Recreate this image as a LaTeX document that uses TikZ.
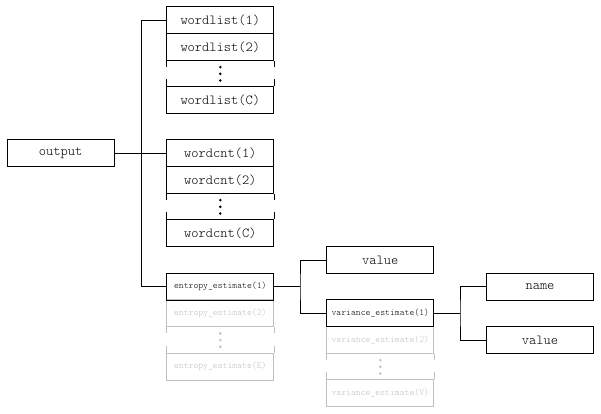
\documentclass[tikz,border=0pt]{standalone}
\usepackage{tikz}
\usetikzlibrary{calc}
\colorlet{fade}{black!25}
\tikzset{
  field/.style={draw,line width=0.7pt,minimum width=2.67cm,minimum height=0.667cm,inner sep=0pt,font=\fontsize{9.8}{11}\ttfamily\fontseries{l}\selectfont},
  tiny/.style={font=\fontsize{6.6}{8}\ttfamily\fontseries{l}\selectfont},
  faded/.style={draw=fade,text=fade}
}
\begin{document}
\begin{tikzpicture}[x=0.025cm,y=-0.025cm,line width=0.7pt]
\useasboundingbox (0,0) rectangle (601,414);
% left side
\node[field](output)at(60.7,153.3){output};
% greyed entries first, so the black borders stay on top
\node[field,tiny,faded](entropy2)at(220.3,313.3){entropy\_estimate(2)};
\node[field,tiny,faded](entropyE)at(220.3,366.7){entropy\_estimate(E)};
\node[field,tiny,faded](variance2)at(380.3,340){variance\_estimate(2)};
\node[field,tiny,faded](varianceV)at(380.3,393.3){variance\_estimate(V)};
% first column
\node[field](wordlist1)at(220.3,20.3){wordlist(1)};
\node[field](wordlist2)at(220.3,47){wordlist(2)};
\node[field](wordlistC)at(220.3,100.3){wordlist(C)};
\node[field](wordcnt1)at(220.3,153.3){wordcnt(1)};
\node[field](wordcnt2)at(220.3,180){wordcnt(2)};
\node[field](wordcntC)at(220.3,233.3){wordcnt(C)};
\node[field,tiny](entropy1)at(220.3,286.7){entropy\_estimate(1)};
% second column
\node[field](value1)at(380.3,260){value};
\node[field,tiny](variance1)at(380.3,313.3){variance\_estimate(1)};
% third column
\node[field](name)at(540,286.7){name};
\node[field](value2)at(540,340){value};
% gaps with dots
\foreach \up/\down/\col in {wordlist2/wordlistC/black,wordcnt2/wordcntC/black,entropy2/entropyE/fade,variance2/varianceV/fade}{
  \draw[\col] (\up.south west) -- ++(0,6);
  \draw[\col] (\up.south east) -- ++(0,6);
  \draw[\col] (\down.north west) -- ++(0,-7);
  \draw[\col] (\down.north east) -- ++(0,-7);
  \foreach \d in {6.3,13,19.7}
    \fill[\col] ($(\up.south)+(0,\d)$) circle (1pt);
}
% connectors
\coordinate (j1) at (141.7,153.3);
\coordinate (j2) at (300,286.7);
\coordinate (j3) at (460,313.3);
\draw(output.east)--(wordcnt1.west);
\draw(wordlist1.west)-|(j1)|-(entropy1.west);
\draw(entropy1.east)--(j2);
\draw(value1.west)-|(j2)|-(variance1.west);
\draw(variance1.east)--(j3);
\draw(name.west)-|(j3)|-(value2.west);
\end{tikzpicture}
\end{document}
